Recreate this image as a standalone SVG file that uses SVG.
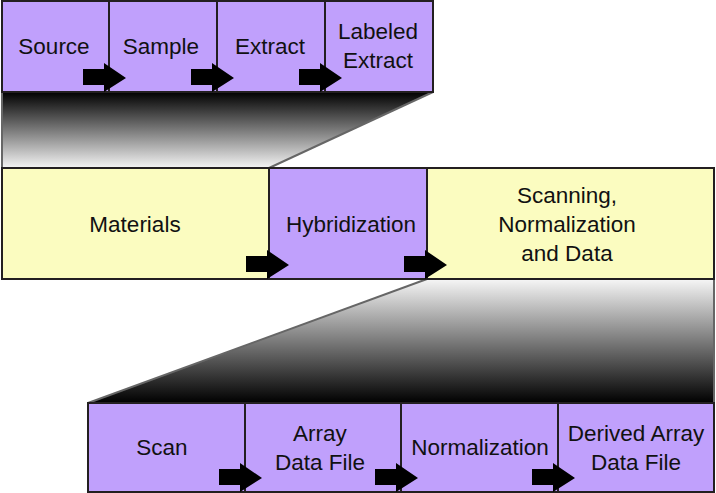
<svg xmlns="http://www.w3.org/2000/svg" width="716" height="493" viewBox="0 0 716 493">
<defs>
<linearGradient id="gTop" x1="0" y1="0" x2="0" y2="1">
<stop offset="0" stop-color="#000000"/>
<stop offset="1" stop-color="#f4f4f4"/>
</linearGradient>
<linearGradient id="gBot" x1="0" y1="0" x2="0" y2="1">
<stop offset="0" stop-color="#f6f6f6"/>
<stop offset="1" stop-color="#000000"/>
</linearGradient>
<path id="arr" d="M-26,-23 H-5 V-29 L17,-14 L-5,0 V-7 H-26 Z"/>
<style>
.p{fill:#c0a0fc;stroke:#231f20;stroke-width:2}
.y{fill:#fbfcc0;stroke:#231f20;stroke-width:2}
.t{font-family:"Liberation Sans",Arial,sans-serif;font-size:22.5px;fill:#111;text-anchor:middle}
.edge{stroke:#666;stroke-width:2;fill:none}
.a{fill:#000}
</style>
</defs>
<rect width="716" height="493" fill="#fff"/>
<g id="zoom-top">
<polygon points="2,92 433,92 269,168 2,168" fill="url(#gTop)"/>
<line class="edge" x1="433" y1="92" x2="269" y2="168"/>
<line class="edge" x1="2" y1="92" x2="2" y2="168"/>
</g>
<g id="zoom-bottom">
<polygon points="427,279 714,279 714,403 88,403" fill="url(#gBot)"/>
<line class="edge" x1="427" y1="279" x2="88" y2="403"/>
<line class="edge" x1="714" y1="279" x2="714" y2="403"/>
</g>
<g id="source"><rect class="p" x="2" y="1" width="107" height="91"/><text class="t" x="54" y="54">Source</text></g>
<g id="sample"><rect class="p" x="109" y="1" width="108" height="91"/><text class="t" x="161" y="54">Sample</text></g>
<g id="extract"><rect class="p" x="217" y="1" width="108" height="91"/><text class="t" x="270" y="54">Extract</text></g>
<g id="labeled-extract"><rect class="p" x="325" y="1" width="108" height="91"/><text class="t" x="378" y="39">Labeled</text><text class="t" x="378" y="68">Extract</text></g>
<g id="materials"><rect class="y" x="2" y="168" width="267" height="111"/><text class="t" x="135" y="232">Materials</text></g>
<g id="hybridization"><rect class="p" x="269" y="168" width="158" height="111"/><text class="t" x="351" y="232">Hybridization</text></g>
<g id="scanning"><rect class="y" x="427" y="168" width="287" height="111"/><text class="t" x="567" y="203">Scanning,</text><text class="t" x="567" y="232">Normalization</text><text class="t" x="567" y="261">and Data</text></g>
<g id="scan"><rect class="p" x="88" y="403" width="157" height="89"/><text class="t" x="162" y="455">Scan</text></g>
<g id="array-data-file"><rect class="p" x="245" y="403" width="156" height="89"/><text class="t" x="320" y="441">Array</text><text class="t" x="320" y="470">Data File</text></g>
<g id="normalization"><rect class="p" x="401" y="403" width="157" height="89"/><text class="t" x="480" y="455">Normalization</text></g>
<g id="derived-array-data-file"><rect class="p" x="558" y="403" width="156" height="89"/><text class="t" x="636" y="441">Derived Array</text><text class="t" x="636" y="470">Data File</text></g>
<g id="connectors">
<use href="#arr" class="a" x="109" y="92"/>
<use href="#arr" class="a" x="217" y="92"/>
<use href="#arr" class="a" x="325" y="92"/>
<use href="#arr" class="a" x="272" y="279"/>
<use href="#arr" class="a" x="430" y="279"/>
<use href="#arr" class="a" x="245" y="492"/>
<use href="#arr" class="a" x="401" y="492"/>
<use href="#arr" class="a" x="558" y="492"/>
</g>
</svg>
